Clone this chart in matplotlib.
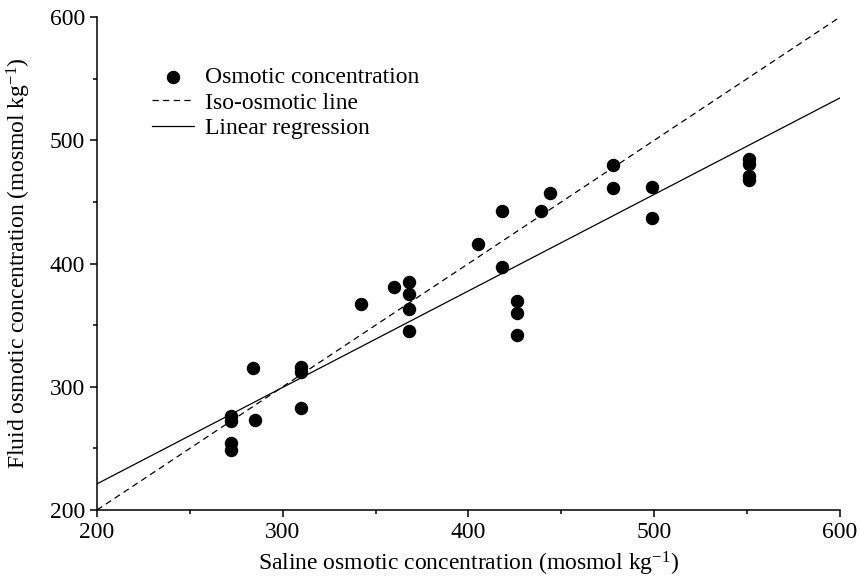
import numpy as np
import matplotlib
matplotlib.use("Agg")
import matplotlib.pyplot as plt
from matplotlib.ticker import MultipleLocator

# ==========================
# Dados
# ==========================
saline = [272, 272, 272, 272, 284, 285, 310, 310, 310,
          342, 360, 368, 368, 368, 368, 405, 418, 418,
          426, 426, 426, 439, 444, 478, 478, 499, 499,
          551, 551, 551, 551]
fluid = [276, 272, 254, 249, 315, 273, 316, 312, 283,
         367, 381, 385, 375, 363, 345, 416, 443, 397,
         370, 360, 342, 443, 457, 480, 461, 462, 437,
         485, 481, 471, 468]

reg_slope = 0.783
reg_intercept = 64.6
x_range = [200, 600]

plt.rcParams['font.family'] = ['Liberation Serif', 'DejaVu Serif']
plt.rcParams['mathtext.fontset'] = 'custom'
plt.rcParams['mathtext.rm'] = 'Liberation Serif'
plt.rcParams['mathtext.it'] = 'Liberation Serif:italic'

fig = plt.figure(figsize=(8.62, 5.82), dpi=100)
ax = fig.add_axes([0.1125, 0.1237, 0.862, 0.847])

ax.scatter(saline, fluid, s=75, color='black', zorder=3,
           label='Osmotic concentration')

xs = np.array(x_range)
ax.plot(xs, xs, color='black', lw=0.9, ls=(0, (5, 3.5)), label='Iso-osmotic line')
ax.plot(xs, reg_slope * xs + reg_intercept, color='black', lw=0.9,
        label='Linear regression')

ax.set_xlim(200, 600)
ax.set_ylim(200, 600)
ax.xaxis.set_major_locator(MultipleLocator(100))
ax.xaxis.set_minor_locator(MultipleLocator(50))
ax.yaxis.set_major_locator(MultipleLocator(100))
ax.yaxis.set_minor_locator(MultipleLocator(50))
ax.tick_params(which='major', direction='out', length=5, width=1.1, labelsize=17)
ax.tick_params(which='minor', direction='out', length=3, width=1.1)

for s in ['top', 'right']:
    ax.spines[s].set_visible(False)
for s in ['left', 'bottom']:
    ax.spines[s].set_linewidth(1.1)

ax.set_xlabel('Saline osmotic concentration (mosmol kg$^{-1}$)', fontsize=17, labelpad=5)
ax.set_ylabel('Fluid osmotic concentration (mosmol kg$^{-1}$)', fontsize=17, labelpad=12)

ax.legend(loc='upper left', bbox_to_anchor=(0.074, 0.9), frameon=False,
          fontsize=17, handlelength=1.8, handletextpad=0.45, labelspacing=0.18,
          borderpad=0, borderaxespad=0)

fig.savefig('out.png', dpi=100)
